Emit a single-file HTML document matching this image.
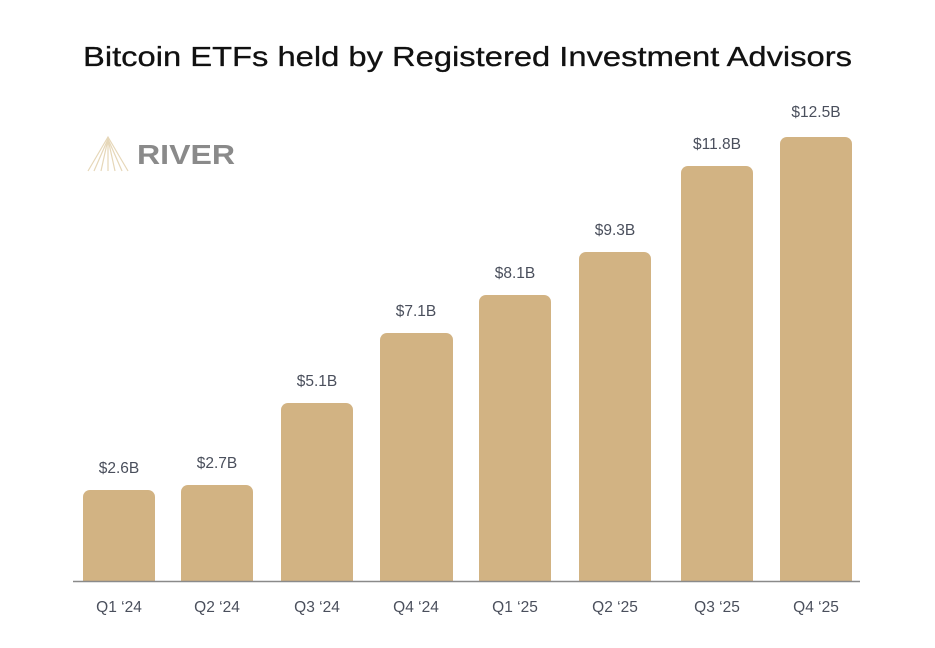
<!DOCTYPE html>
<html><head><meta charset="utf-8"><style>
html,body{margin:0;padding:0;background:#fff;}
svg{display:block;font-family:"Liberation Sans",sans-serif;}
</style></head><body>
<svg width="935" height="648" viewBox="0 0 935 648">
<rect width="935" height="648" fill="#fff"/>
<text x="83" y="66" font-size="28" fill="#111" textLength="769" lengthAdjust="spacingAndGlyphs" stroke="#111" stroke-width="0.3">Bitcoin ETFs held by Registered Investment Advisors</text>
<g fill="none" stroke="#e6d7b8" stroke-width="1.2">
<path d="M88 171 L108 137 L128 171"/><path d="M94 171 L108 139 L122 171"/><path d="M101 171 L108 139 L115 171"/><path d="M108 139 L108 171"/>
</g>
<text x="137" y="164" font-size="28" font-weight="bold" fill="#8a8a8a" textLength="98" lengthAdjust="spacingAndGlyphs">RIVER</text>
<g fill="#d2b383">
<rect x="83" y="490" width="72" height="100" rx="7"/>
<rect x="181" y="485" width="72" height="105" rx="7"/>
<rect x="281" y="403" width="72" height="187" rx="7"/>
<rect x="380" y="333" width="73" height="257" rx="7"/>
<rect x="479" y="295" width="72" height="295" rx="7"/>
<rect x="579" y="252" width="72" height="338" rx="7"/>
<rect x="681" y="166" width="72" height="424" rx="7"/>
<rect x="780" y="137" width="72" height="453" rx="7"/>
</g>
<rect x="0" y="582" width="935" height="66" fill="#fff"/>
<line x1="73" y1="581.5" x2="860" y2="581.5" stroke="#8a8a8a" stroke-width="1.5"/>
<g font-size="15.5" fill="#4a4f5c" text-anchor="middle">
<text x="119" y="473">$2.6B</text>
<text x="217" y="468">$2.7B</text>
<text x="317" y="386">$5.1B</text>
<text x="416" y="316">$7.1B</text>
<text x="515" y="278">$8.1B</text>
<text x="615" y="235">$9.3B</text>
<text x="717" y="149">$11.8B</text>
<text x="816" y="117">$12.5B</text>
</g>
<g font-size="15.5" fill="#4a4f5c" text-anchor="middle">
<text x="119" y="612">Q1 ‘24</text>
<text x="217" y="612">Q2 ‘24</text>
<text x="317" y="612">Q3 ‘24</text>
<text x="416" y="612">Q4 ‘24</text>
<text x="515" y="612">Q1 ‘25</text>
<text x="615" y="612">Q2 ‘25</text>
<text x="717" y="612">Q3 ‘25</text>
<text x="816" y="612">Q4 ‘25</text>
</g>
</svg>
</body></html>
